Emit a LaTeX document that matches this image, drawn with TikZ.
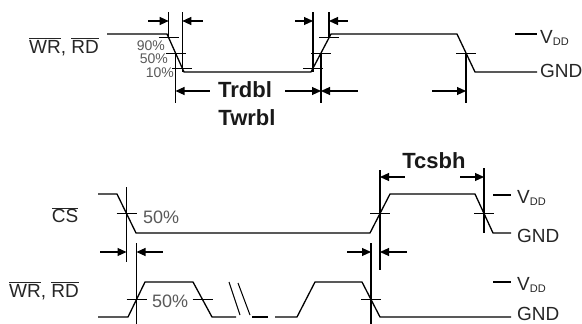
\documentclass[tikz,border=0pt]{standalone}
\usepackage{fontspec}
\setmainfont{Liberation Sans}
\usetikzlibrary{calc}
\usetikzlibrary{arrows.meta}
\newcommand{\barsig}[1]{$\overline{\hbox{#1}}$}
\newcommand{\vdd}{V\raisebox{-2pt}{\fontsize{11}{11}\selectfont DD}}

\begin{document}
\begin{tikzpicture}[x=1pt,y=-1pt,
  wave/.style={black,line width=1.3pt},
  guide/.style={black,line width=1.2pt},
  edgetick/.style={black,line width=1pt},
  dimarrow/.style={{Triangle[length=9pt,width=8pt]}-,black,line width=1.1pt},
  lbl/.style={text=black!85,font=\fontsize{19}{21}\selectfont,inner sep=0pt},
  pct/.style={text=black!65,font=\fontsize{18}{20}\selectfont,inner sep=0pt},
  pcts/.style={text=black!65,font=\fontsize{14}{16}\selectfont,inner sep=0pt},
  big/.style={text=black!90,font=\fontsize{22}{24}\selectfont\bfseries,inner sep=0pt}]

\useasboundingbox (0,0) rectangle (582,324);

% levels
\coordinate (ytop) at (0,12);
\coordinate (yarrt) at (0,21);
\coordinate (ylow) at (0,72);
\coordinate (yarrb) at (0,91);
\coordinate (ybot) at (0,103);
\coordinate (ydim) at (0,177);
\coordinate (ycsa) at (0,187);
\coordinate (ycsae) at (0,262);
\coordinate (ycsb) at (0,170);
\coordinate (ycsbe) at (0,270);
\coordinate (ycsc) at (0,168);
\coordinate (ywrt) at (0,243);
\coordinate (yarrc) at (0,252);
\coordinate (yend) at (0,324);

% top WR, RD
\coordinate (t0) at (107,34);
\coordinate (t1) at (167,34);
\coordinate (t2) at (184,72);
\coordinate (t3) at (311,72);
\coordinate (t4) at (331,34);
\coordinate (t5) at (457,34);
\coordinate (t6) at (475,72);
\coordinate (t7) at (537,72);
\draw[wave] (t0)--(t1)--(t2)--(t3)--(t4)--(t5)--(t6)--(t7);

\coordinate (f90) at ($(t1)!0.1!(t2)$);
\coordinate (f50) at ($(t1)!0.5!(t2)$);
\coordinate (f10) at ($(t1)!0.9!(t2)$);
\coordinate (r10) at ($(t3)!0.1!(t4)$);
\coordinate (r50) at ($(t3)!0.5!(t4)$);
\coordinate (r90) at ($(t3)!0.9!(t4)$);
\coordinate (g50) at ($(t5)!0.5!(t6)$);

\draw[guide] (f90 |- ytop) -- (f90);
\draw[guide] (f10 |- ytop) -- (f10 |- ylow);
\draw[guide] (f50) -- (f50 |- ybot);
\draw[guide] (r10 |- ytop) -- (r10 |- ylow);
\draw[guide] (r90 |- ytop) -- (r90);
\draw[guide] (r50) -- (r50 |- ybot);
\draw[guide] (g50) -- (g50 |- ybot);

\draw[dimarrow] (f90 |- yarrt) -- ++(-21,0);
\draw[dimarrow] (f10 |- yarrt) -- ++(21,0);
\draw[dimarrow] (r10 |- yarrt) -- ++(-18,0);
\draw[dimarrow] (r90 |- yarrt) -- ++(19,0);
\draw[dimarrow] (f50 |- yarrb) -- ++(34,0);
\draw[dimarrow] (r50 |- yarrb) -- ++(-36,0);
\draw[dimarrow] (r50 |- yarrb) -- ++(37,0);
\draw[dimarrow] (g50 |- yarrb) -- ++(-34,0);

\node[lbl,anchor=base] (wrtop) at (64,53) {\barsig{WR}, \barsig{RD}};
\node[pcts,anchor=base east] (p90) at (165,50) {90\%};
\node[pcts,anchor=base east] (p50) at (168,63.5) {50\%};
\node[pcts,anchor=base east] (p10) at (174,77) {10\%};
\node[big,anchor=base] (trdbl) at (245,97) {Trdbl};
\node[big,anchor=base] (twrbl) at (247,125) {Twrbl};
\draw[wave] (515,34) -- (537,34);
\node[lbl,anchor=base west] (vddtop) at (540,43) {\vdd};
\node[lbl,anchor=base west] (gndtop) at (540,77) {GND};

% CS
\coordinate (c0) at (98,194);
\coordinate (c1) at (117,194);
\coordinate (c2) at (136,233);
\coordinate (c3) at (370,233);
\coordinate (c4) at (390,194);
\coordinate (c5) at (475,194);
\coordinate (c6) at (493,233);
\coordinate (c7) at (511,233);
\draw[wave] (c0)--(c1)--(c2)--(c3)--(c4)--(c5)--(c6)--(c7);

\coordinate (cs50a) at ($(c1)!0.5!(c2)$);
\coordinate (cs50b) at ($(c3)!0.5!(c4)$);
\coordinate (cs50c) at ($(c5)!0.5!(c6)$);

% bottom WR, RD
\coordinate (w0) at (98,317);
\coordinate (w1) at (128,317);
\coordinate (w2) at (145,282);
\coordinate (w3) at (193,282);
\coordinate (w4) at (212,317);
\coordinate (w5) at (236,317);
\coordinate (w6) at (252,317);
\coordinate (w7) at (268,317);
\coordinate (w8) at (275,317);
\coordinate (w9) at (297,317);
\coordinate (w10) at (315,282);
\coordinate (w11) at (362,282);
\coordinate (w12) at (380,317);
\coordinate (w13) at (511,317);
\draw[wave] (w0)--(w1)--(w2)--(w3)--(w4)--(w5);
\draw[wave] (w6)--(w7);
\draw[wave] (w8)--(w9)--(w10)--(w11)--(w12)--(w13);
\draw[edgetick] (229,282) -- (240,315);
\draw[edgetick] (238,283) -- (250,315);

\coordinate (wr50a) at ($(w1)!0.5!(w2)$);
\coordinate (wr50c) at ($(w3)!0.5!(w4)$);
\coordinate (wr50b) at ($(w11)!0.5!(w12)$);

\draw[guide] (cs50a |- ycsa) -- (cs50a |- ycsae);
\draw[guide] (cs50b |- ycsb) -- (cs50b |- ycsbe);
\draw[guide] (cs50c |- ycsc) -- (cs50c |- c6);
\draw[guide] (wr50a |- ywrt) -- (wr50a |- yend);
\draw[guide] (wr50b |- ywrt) -- (wr50b |- yend);

\draw[dimarrow] (cs50a |- yarrc) -- ++(-27,0);
\draw[dimarrow] (wr50a |- yarrc) -- ++(26,0);
\draw[dimarrow] (wr50b |- yarrc) -- ++(-24,0);
\draw[dimarrow] (cs50b |- yarrc) -- ++(27,0);
\draw[dimarrow] (cs50b |- ydim) -- ++(25,0);
\draw[dimarrow] (cs50c |- ydim) -- ++(-24,0);

\foreach \p in {f90,f50,f10,r10,r50,r90,g50,cs50a,cs50b,cs50c,wr50a,wr50c,wr50b}
  \draw[edgetick] ($(\p)+(-10,0)$) -- ($(\p)+(10,0)$);

\node[lbl,anchor=base] (cs) at (65,222.5) {\barsig{CS}};
\node[pct,anchor=base west] (pcs) at (143,223) {50\%};
\node[lbl,anchor=base] (wrbot) at (44,297) {\barsig{WR}, \barsig{RD}};
\node[pct,anchor=base west] (pwr) at (152,307) {50\%};
\node[big,anchor=base] (tcsbh) at (434,168) {Tcsbh};
\draw[wave] (493,195) -- (511,195);
\node[lbl,anchor=base west] (vddcs) at (517,203) {\vdd};
\node[lbl,anchor=base west] (gndcs) at (517,242) {GND};
\draw[wave] (493,282) -- (511,282);
\node[lbl,anchor=base west] (vddwr) at (517,290) {\vdd};
\node[lbl,anchor=base west] (gndwr) at (517,320) {GND};

\end{tikzpicture}
\end{document}
